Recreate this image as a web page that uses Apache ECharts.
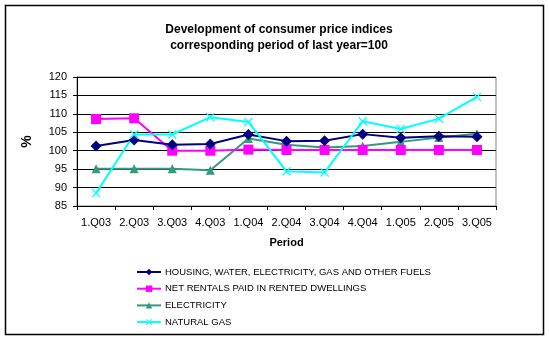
<!DOCTYPE html>
<html>
<head>
<meta charset="utf-8">
<script src="https://cdn.jsdelivr.net/npm/echarts@6/dist/echarts.min.js"></script>
<style>
  html, body { margin: 0; padding: 0; background: #fff; }
  #chart { width: 549px; height: 340px; }
</style>
</head>
<body>
<div id="chart"></div>
<script>
// Quarterly price indices, same period of previous year = 100
const periods = ['1.Q03', '2.Q03', '3.Q03', '4.Q03', '1.Q04', '2.Q04', '3.Q04', '4.Q04', '1.Q05', '2.Q05', '3.Q05'];
const housing = [101.3, 102.9, 101.6, 101.8, 104.4, 102.6, 102.7, 104.5, 103.5, 103.9, 103.8];
const rentals = [108.6, 108.8, 100.0, 100.0, 100.3, 100.2, 100.2, 100.2, 100.2, 100.2, 100.2];
const electricity = [95.1, 95.1, 95.1, 94.7, 103.3, 101.6, 100.9, 101.3, 102.4, 103.6, 104.6];
const naturalGas = [88.5, 104.4, 104.4, 109.1, 107.8, 94.4, 94.1, 108.0, 105.9, 108.7, 114.6];
const yTicks = [85, 90, 95, 100, 105, 110, 115, 120];
const legendNames = [
  'HOUSING, WATER, ELECTRICITY, GAS AND OTHER FUELS',
  'NET RENTALS PAID IN RENTED DWELLINGS',
  'ELECTRICITY',
  'NATURAL GAS'
];

const FONT = '"Liberation Sans", Arial, sans-serif';
const crossPath = 'path://M0,1L1,0L5,4L9,0L10,1L6,5L10,9L9,10L5,6L1,10L0,9L4,5Z';

const chart = echarts.init(document.getElementById('chart'), null, { renderer: 'canvas' });

function lineSeries(name, data, color, symbol, size) {
  return {
    name: name,
    type: 'line',
    data: data,
    symbol: symbol,
    symbolSize: size,
    showAllSymbol: true,
    lineStyle: { color: color, width: 2 },
    itemStyle: { color: color },
    emphasis: { disabled: true },
    animation: false
  };
}

// one legend block per row so the rows stack in a single column
const legends = legendNames.map(function (n, i) {
  return {
    orient: 'vertical',
    left: 136,
    top: 267 + i * 16.7,
    padding: 0,
    itemWidth: 24,
    itemHeight: 8,
    textStyle: { fontFamily: FONT, fontSize: 9.5, color: '#000', padding: [0, 0, 0, -1] },
    data: [n]
  };
});

chart.setOption({
  backgroundColor: '#fff',
  animation: false,
  title: {
    text: 'Development of consumer price indices\ncorresponding period of last year=100',
    left: 274,
    textAlign: 'center',
    top: 17,
    textStyle: { fontFamily: FONT, fontSize: 12, fontWeight: 'bold', color: '#000', lineHeight: 16 }
  },
  graphic: [{
    type: 'rect',
    shape: { x: 5.5, y: 5.5, width: 538, height: 329 },
    style: { fill: null, stroke: '#000', lineWidth: 1.5 },
    silent: true
  }],
  grid: { left: 77, right: 53, top: 77, bottom: 134, show: true, borderColor: '#808080', borderWidth: 1, backgroundColor: 'transparent' },
  legend: legends,
  xAxis: {
    type: 'category',
    data: periods,
    boundaryGap: true,
    name: 'Period',
    nameLocation: 'middle',
    nameGap: 31,
    nameTextStyle: { fontFamily: FONT, fontSize: 11, fontWeight: 'bold', color: '#000' },
    axisLine: { lineStyle: { color: '#000', width: 1 } },
    axisTick: { show: true, length: 4, alignWithLabel: false, lineStyle: { color: '#000' } },
    axisLabel: { fontFamily: FONT, fontSize: 11, color: '#000', margin: 11, interval: 0 },
    splitLine: { show: false }
  },
  yAxis: {
    type: 'value',
    min: yTicks[0],
    max: yTicks[yTicks.length - 1],
    interval: 5,
    name: '%',
    nameLocation: 'middle',
    nameGap: 43,
    nameRotate: 90,
    nameTextStyle: { fontFamily: FONT, fontSize: 14, fontWeight: 'bold', color: '#000' },
    axisLine: { show: true, lineStyle: { color: '#000', width: 1 } },
    axisTick: { show: true, length: 4, lineStyle: { color: '#000' } },
    axisLabel: { fontFamily: FONT, fontSize: 11, color: '#000', margin: 10 },
    splitLine: { show: true, lineStyle: { color: '#000', width: 1 } }
  },
  series: [
    lineSeries(legendNames[2], electricity, '#339980', 'triangle', 9),
    lineSeries(legendNames[1], rentals, '#FF00FF', 'rect', 10),
    lineSeries(legendNames[0], housing, '#000080', 'diamond', 11),
    lineSeries(legendNames[3], naturalGas, '#00FFFF', crossPath, 9)
  ]
});
</script>
</body>
</html>
